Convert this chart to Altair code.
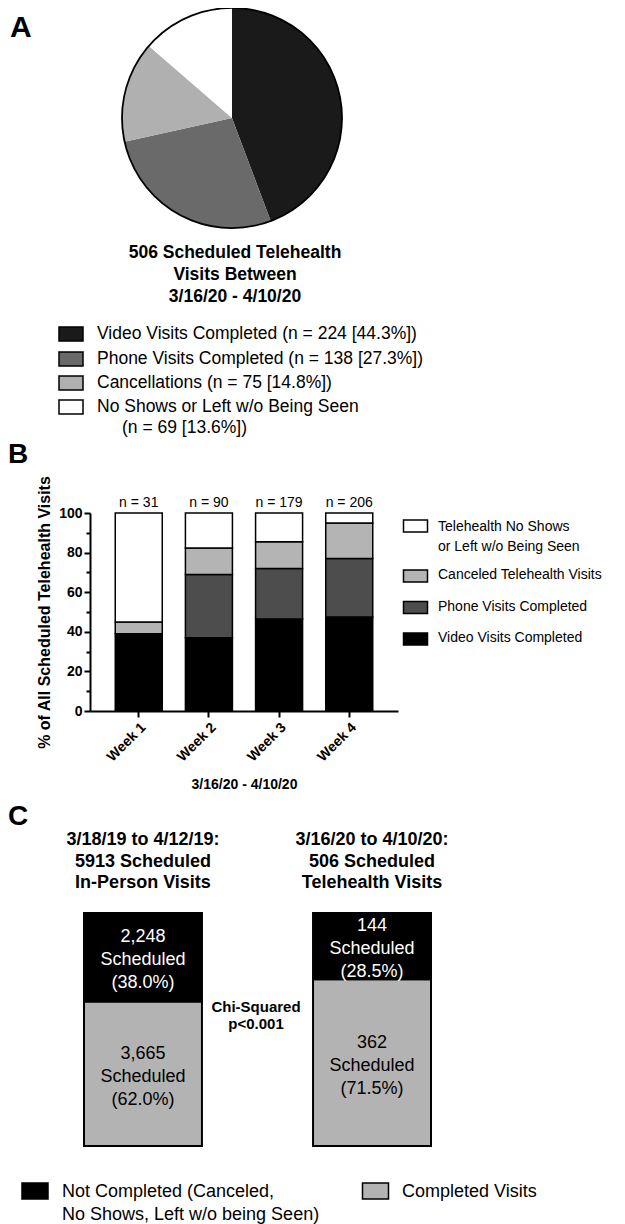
import altair as alt
import pandas as pd

FONT = "Liberation Sans"
W, H = 609, 1216

# ---------------- Panel A data ----------------
pie_labels = ["Video Visits Completed", "Phone Visits Completed", "Cancellations",
              "No Shows or Left w/o Being Seen"]
pie_counts = [224, 138, 75, 69]
pie_pcts = [44.3, 27.3, 14.8, 13.6]
pie_colors = ["#1a1a1a", "#6a6a6a", "#b0b0b0", "#ffffff"]
pie_title_rest = ["Scheduled Telehealth", "Visits Between", "3/16/20 - 4/10/20"]

# ---------------- Panel B data ----------------
weeks = ["Week 1", "Week 2", "Week 3", "Week 4"]
week_n = [31, 90, 179, 206]
b_cats = ["Video Visits Completed", "Phone Visits Completed",
          "Canceled Telehealth Visits", "Telehealth No Shows or Left w/o Being Seen"]
b_legend_text = ["Video Visits Completed", "Phone Visits Completed",
                 "Canceled Telehealth Visits", "Telehealth No Shows\nor Left w/o Being Seen"]
video_pct = [39.0, 37.0, 46.5, 47.5]
phone_pct = [0.0, 32.0, 25.5, 29.5]
canceled_pct = [6.0, 13.3, 13.5, 18.0]
noshow_pct = [55.0, 17.7, 14.5, 5.0]
b_colors = ["#000000", "#4d4d4d", "#b4b4b4", "#ffffff"]
b_xtitle = "3/16/20 - 4/10/20"
b_ytitle = "% of All Scheduled Telehealth Visits"

# ---------------- Panel C data ----------------
periods = ["3/18/19 to 4/12/19", "3/16/20 to 4/10/20"]
visit_kind = ["In-Person Visits", "Telehealth Visits"]
not_completed = [2248, 144]
completed = [3665, 362]
c_cats = ["Not Completed", "Completed"]
c_legend_text = ["Not Completed (Canceled,\nNo Shows, Left w/o being Seen)", "Completed Visits"]
c_colors = ["#000000", "#b3b3b3"]
chi_text = "Chi-Squared\np<0.001"


def text(s, x, y, size, bold=False, align="center", baseline="middle", lh=None, color="black"):
    return alt.Chart(pd.DataFrame({"t": [s]})).mark_text(
        font=FONT, fontSize=size, fontWeight="bold" if bold else "normal",
        align=align, baseline=baseline, lineBreak="\n",
        lineHeight=lh if lh else round(size * 1.25), color=color
    ).encode(x=alt.value(x), y=alt.value(y), text="t:N")


def swatch(cat, domain, colors, x, y, w, h, sw=1.5):
    r = h / w
    shape = f"M-1,{-r:.4f}H1V{r:.4f}H-1Z"
    return alt.Chart(pd.DataFrame({"cat": [cat]})).mark_point(
        shape=shape, size=w * w, filled=True, opacity=1, stroke="black", strokeWidth=sw
    ).encode(x=alt.value(x), y=alt.value(y),
             fill=alt.Fill("cat:N", scale=alt.Scale(domain=domain, range=colors), legend=None))


layers = []

# ================= Panel A =================
layers.append(text("A", 2, 29, 30, bold=True, align="left", baseline="alphabetic"))
pie_df = pd.DataFrame({"label": pie_labels, "count": pie_counts, "order": list(range(4))})
layers.append(alt.Chart(pie_df).mark_arc(radius=110).encode(
    theta=alt.Theta("count:Q", stack=True),
    order=alt.Order("order:Q"),
    color=alt.Color("label:N", scale=alt.Scale(domain=pie_labels, range=pie_colors), legend=None),
    x=alt.value(224), y=alt.value(110)))
layers.append(alt.Chart(pd.DataFrame({"k": [0]})).mark_point(
    shape="circle", size=220 * 220, filled=False, stroke="black", strokeWidth=1.8, opacity=1
).encode(x=alt.value(224), y=alt.value(110)))
pie_title = f"{sum(pie_counts)} " + "\n".join(pie_title_rest)
layers.append(text(pie_title, 227, 245, 17.5, bold=True, lh=22))

ys_a = [326, 351, 375, 399]
for i, lab in enumerate(pie_labels):
    layers.append(swatch(lab, pie_labels, pie_colors, 63, ys_a[i], 24, 14))
    if i < 3:
        layers.append(text(f"{lab} (n = {pie_counts[i]} [{pie_pcts[i]}%])", 89, ys_a[i], 17.5, align="left"))
    else:
        layers.append(text(lab, 89, ys_a[i], 17.5, align="left"))
        layers.append(text(f"(n = {pie_counts[i]} [{pie_pcts[i]}%])", 114, 420, 17.5, align="left"))

# ================= Panel B =================
layers.append(text("B", 0, 455, 28, bold=True, align="left", baseline="alphabetic"))
b_rows = []
for ci, arr in enumerate([video_pct, phone_pct, canceled_pct, noshow_pct]):
    for wk, v in zip(weeks, arr):
        if v > 0:
            b_rows.append({"week": wk, "cat": b_cats[ci], "pct": v, "order": ci})
b_df = pd.DataFrame(b_rows)


def xB():
    return alt.Scale(type="band", domain=weeks, range=[82, 390], paddingInner=0.33, paddingOuter=0.36)


def yB():
    return alt.Scale(domain=[0, 100], range=[703, 505], nice=False)


major = "datum.value % 20 === 0"
layers.append(alt.Chart(b_df).mark_bar(stroke="black", strokeWidth=1.5).encode(
    x=alt.X("week:N", sort=weeks, scale=xB(), axis=alt.Axis(
        orient="bottom", offset=703 - H, labelAngle=-45, labelFont=FONT, labelFontSize=14,
        labelFontWeight="bold", labelColor="black", labelPadding=3, tickSize=6, tickWidth=2,
        tickColor="black", domainWidth=2, domainColor="black", title=b_xtitle, titleFont=FONT,
        titleFontSize=14, titleFontWeight="bold", titleColor="black", titlePadding=14, grid=False)),
    y=alt.Y("pct:Q", stack="zero", scale=yB(), axis=alt.Axis(
        orient="left", offset=-82, values=list(range(0, 101, 10)),
        labelExpr=f"{major} ? datum.label : ''",
        tickSize={"condition": {"test": major, "value": 6}, "value": 4},
        tickWidth=2, tickColor="black", domainWidth=2, domainColor="black",
        labelFont=FONT, labelFontSize=14, labelFontWeight="bold", labelColor="black",
        labelPadding=2, title=b_ytitle, titleFont=FONT, titleFontSize=16,
        titleFontWeight="bold", titleColor="black", titlePadding=6, grid=False)),
    color=alt.Color("cat:N", scale=alt.Scale(domain=b_cats, range=b_colors), legend=None),
    order=alt.Order("order:Q")))

n_df = pd.DataFrame({"week": weeks, "lab": [f"n = {n}" for n in week_n]})
layers.append(alt.Chart(n_df).mark_text(font=FONT, fontSize=14, baseline="middle", color="black").encode(
    x=alt.X("week:N", sort=weeks, scale=xB(), axis=None),
    y=alt.value(495), text="lab:N"))

sw_b = {3: 518, 2: 568, 1: 599.5, 0: 631}
tx_b = {3: 519, 2: 567, 1: 599, 0: 630}
for i in [3, 2, 1, 0]:
    layers.append(swatch(b_cats[i], b_cats, b_colors, 407.5, sw_b[i], 24, 12))
    layers.append(text(b_legend_text[i], 430, tx_b[i], 14, align="left", lh=20))

# ================= Panel C =================
layers.append(text("C", 0, 817, 28, bold=True, align="left", baseline="alphabetic"))


def xC():
    return alt.Scale(type="band", domain=periods, range=[76, 423], paddingInner=0.485, paddingOuter=0)


def yC():
    return alt.Scale(domain=[0, 1], range=[1138, 905], nice=False)


c_rows, t_rows = [], []
for j, p in enumerate(periods):
    tot = not_completed[j] + completed[j]
    c_rows.append({"period": p, "cat": "Completed", "count": completed[j], "order": 0})
    c_rows.append({"period": p, "cat": "Not Completed", "count": not_completed[j], "order": 1})
    fc = completed[j] / tot
    t_rows.append({"period": p, "cat": "Completed", "mid": fc / 2,
                   "lab": f"{completed[j]:,}\nScheduled\n({100 * completed[j] / tot:.1f}%)"})
    t_rows.append({"period": p, "cat": "Not Completed", "mid": (1 + fc) / 2,
                   "lab": f"{not_completed[j]:,}\nScheduled\n({100 * not_completed[j] / tot:.1f}%)"})
c_df = pd.DataFrame(c_rows)
ct_df = pd.DataFrame(t_rows)

layers.append(alt.Chart(c_df).mark_bar(stroke="black", strokeWidth=2).encode(
    x=alt.X("period:N", sort=periods, scale=xC(), axis=None),
    y=alt.Y("count:Q", stack="normalize", scale=yC(), axis=None),
    color=alt.Color("cat:N", scale=alt.Scale(domain=c_cats, range=c_colors), legend=None),
    order=alt.Order("order:Q")))
layers.append(alt.Chart(ct_df).mark_text(font=FONT, fontSize=18, lineBreak="\n", lineHeight=23,
                                         baseline="middle", dy=-20).encode(
    x=alt.X("period:N", sort=periods, scale=xC(), axis=None),
    y=alt.Y("mid:Q", scale=yC(), axis=None),
    text="lab:N",
    color=alt.Color("cat:N", scale=alt.Scale(domain=c_cats, range=["#ffffff", "#000000"]), legend=None)))

title_df = pd.DataFrame({
    "period": periods,
    "title": [f"{p}:\n{nc + c} Scheduled\n{k}" for p, nc, c, k in zip(periods, not_completed, completed, visit_kind)]})
layers.append(alt.Chart(title_df).mark_text(font=FONT, fontSize=18, fontWeight="bold", lineBreak="\n",
                                            lineHeight=21.5, baseline="middle", color="black").encode(
    x=alt.X("period:N", sort=periods, scale=xC(), axis=None),
    y=alt.value(832), text="title:N"))

layers.append(text(chi_text, 248, 999, 15, bold=True, lh=17))

layers.append(swatch("Not Completed", c_cats, c_colors, 27, 1183, 26, 16))
layers.append(text(c_legend_text[0], 54, 1184, 18, align="left", lh=23))
layers.append(swatch("Completed", c_cats, c_colors, 367.5, 1183, 26, 16))
layers.append(text(c_legend_text[1], 394, 1184, 18, align="left"))

chart = alt.layer(*layers).resolve_scale(
    x="independent", y="independent", color="independent", fill="independent", theta="independent"
).resolve_axis(x="independent", y="independent").properties(
    width=W, height=H, autosize=alt.AutoSizeParams(type="none"), padding=0
).configure(font=FONT).configure_view(stroke=None)

chart.save("out.html", embed_options={"renderer": "svg", "actions": False})
